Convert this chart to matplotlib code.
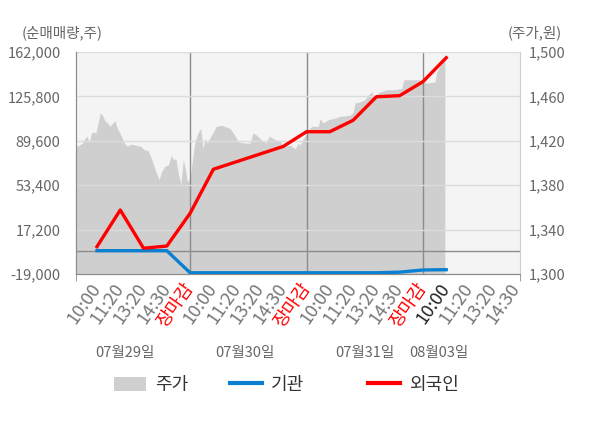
import numpy as np
import matplotlib
matplotlib.use('Agg')
import matplotlib.pyplot as plt
import matplotlib.transforms as mtransforms
from matplotlib.patches import Patch
from matplotlib.lines import Line2D

plt.rcParams['font.family'] = ['Noto Sans CJK KR', 'DejaVu Sans']

# x tick labels (one slot each)
tick_labels = ['10:00', '11:20', '13:20', '14:30', '장마감',
               '10:00', '11:20', '13:20', '14:30', '장마감',
               '10:00', '11:20', '13:20', '14:30', '장마감',
               '10:00', '11:20', '13:20', '14:30']
date_labels = ['07월29일', '07월30일', '07월31일', '08월03일']
date_pos = [1.2, 6.35, 11.5, 14.7]

# net buying volume (left axis), one value per slot
foreign = [3300, 33200, 2000, 3800, 30500, 66400, 72600, 78800, 85000,
           97000, 97000, 106300, 125500, 126400, 137800, 157300]
inst = [0, 0, 0, 0, -18000, -18000, -18000, -18000, -18000,
        -18000, -18000, -18000, -18000, -17500, -15700, -15500]

# share price (right axis), time in slot units
price_t = [-0.9, -0.86, -0.76, -0.62, -0.52, -0.43, -0.33, -0.24, -0.15, -0.05,
           0.05, 0.14, 0.24, 0.34, 0.45, 0.57, 0.67, 0.77, 0.88, 1.03,
           1.17, 1.31, 1.45, 1.67, 1.88, 2.03, 2.20, 2.34, 2.48, 2.67,
           2.77, 2.91, 3.06, 3.20, 3.28, 3.39, 3.48, 3.60, 3.71, 3.82,
           3.88, 4.0, 4.12, 4.21, 4.36, 4.46, 4.55, 4.64, 4.74, 4.89,
           5.0, 5.12, 5.36, 5.72, 5.86, 6.07, 6.36, 6.58, 6.69, 6.86,
           7.05, 7.26, 7.40, 7.65, 7.86, 8.0, 8.29, 8.51, 8.65, 8.72,
           8.86, 8.93, 9.08, 9.22, 9.51, 9.58, 9.72, 9.94, 10.15, 10.44,
           10.87, 11.01, 11.08, 11.30, 11.51, 11.65, 11.80, 11.87, 12.15, 12.44,
           12.73, 13.09, 13.18, 13.87, 14.01, 14.16, 14.52, 14.59, 14.73, 14.94]
price_v = [1415, 1415, 1416, 1418, 1422, 1424, 1419, 1427, 1428, 1427,
           1436, 1445, 1443, 1438, 1436, 1433, 1436, 1438, 1431, 1425,
           1418, 1415, 1417, 1416, 1415, 1412, 1411, 1404, 1395, 1385,
           1392, 1397, 1398, 1407, 1403, 1404, 1392, 1381, 1403, 1392,
           1383, 1386, 1406, 1419, 1428, 1431, 1413, 1421, 1418, 1424,
           1428, 1433, 1434, 1431, 1427, 1419, 1418, 1418, 1427, 1425,
           1421, 1418, 1424, 1421, 1420, 1415, 1416, 1413, 1418, 1416,
           1422, 1424, 1430, 1433, 1433, 1440, 1436, 1439, 1440, 1442,
           1443, 1446, 1454, 1455, 1457, 1461, 1464, 1460, 1464, 1466,
           1466, 1467, 1475, 1475, 1473, 1472, 1473, 1482, 1487, 1493]

fig = plt.figure(figsize=(6, 4.28), dpi=100)
axp = fig.add_axes([0.1267, 0.3598, 0.74, 0.5187])
ax = axp.twinx()

xmin, xmax = -0.9, 18.17

# price area on the bottom axes
axp.set_facecolor('#f4f4f4')
axp.fill_between(price_t, price_v, 1300, color='#cfcfcf', lw=0)
axp.set_ylim(1300, 1500)
axp.set_yticks(np.arange(1300, 1501, 40))
axp.set_yticklabels([f'{v:,}' for v in range(1300, 1501, 40)])
axp.yaxis.tick_right()
axp.tick_params(axis='y', length=0, pad=6, labelsize=10.5, labelcolor='#666666')

# net volume lines on the top axes
ax.yaxis.tick_left()
ax.set_ylim(-19000, 162000)
yt = np.arange(-19000, 162001, 36200)
ax.set_yticks(yt)
ax.set_yticklabels([f'{v:,}' for v in yt])
ax.tick_params(axis='y', length=0, pad=11, labelsize=10.5, labelcolor='#666666')
ax.grid(axis='y', color='#dcdcdc', lw=1, zorder=0)
ax.axhline(0, color='#8c8c8c', lw=1, zorder=1)
for xv in [4, 9, 14]:
    ax.axvline(xv, color='#8c8c8c', lw=1, zorder=1)

ax.plot(range(len(inst)), inst, color='#0b7fd0', lw=2.4, zorder=3)
ax.plot(range(len(foreign)), foreign, color='#ff0000', lw=2.4, zorder=4)

for a in (ax, axp):
    a.set_xlim(xmin, xmax)
    a.spines['top'].set_visible(False)
    a.spines['left'].set_color('#8c8c8c')
    a.spines['bottom'].set_color('#8c8c8c')
    a.spines['right'].set_color('#d0d0d0')

# x ticks
axp.set_xticks(range(len(tick_labels)))
axp.set_xticklabels(tick_labels, rotation=55, ha='right', va='center',
                    rotation_mode='anchor', fontsize=13)
axp.tick_params(axis='x', length=0, pad=8)
axp.set_xticks([xmin, 4, 9, 14, xmax], minor=True)
axp.tick_params(axis='x', which='minor', length=5, color='#8c8c8c')
for i, lab in enumerate(axp.get_xticklabels()):
    if tick_labels[i] == '장마감':
        lab.set_color('#ff0000')
    elif i == 15:
        lab.set_color('#222222')
    else:
        lab.set_color('#777777')

trans = mtransforms.blended_transform_factory(axp.transData, axp.transAxes)
for p, d in zip(date_pos, date_labels):
    axp.text(p, -0.356, d, transform=trans, ha='center', va='center',
             fontsize=10.5, color='#666666')

fig.text(22 / 600, 1 - 33 / 428, '(순매매량,주)', ha='left', va='center',
         fontsize=10.5, color='#666666')
fig.text(562 / 600, 1 - 33 / 428, '(주가,원)', ha='right', va='center',
         fontsize=10.5, color='#666666')

handles = [Patch(facecolor='#cfcfcf', edgecolor='none'),
           Line2D([], [], color='#0b7fd0', lw=3),
           Line2D([], [], color='#ff0000', lw=3)]
names = ['주가', '기관', '외국인']
leg_x = [114, 230, 368]
for h, n, lx in zip(handles, names, leg_x):
    leg = fig.legend([h], [n], loc='center left',
                     bbox_to_anchor=(lx / 600, 1 - 385 / 428), frameon=False,
                     fontsize=13, handlelength=1.75, handleheight=0.85,
                     handletextpad=0.5, borderpad=0, borderaxespad=0,
                     labelcolor='#333333')

fig.savefig('out.png', dpi=100)
